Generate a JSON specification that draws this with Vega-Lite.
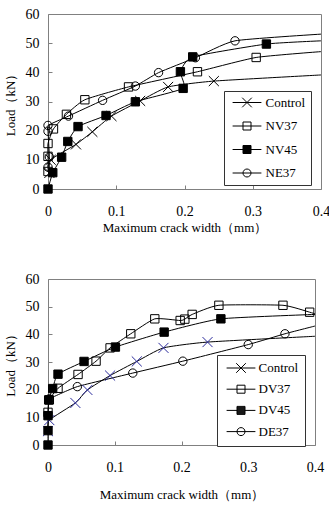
{
  "$schema": "https://vega.github.io/schema/vega-lite/v6.json",
  "padding": {"left": 3, "top": 6, "right": 0, "bottom": 0},
  "background": "white",
  "config": {
    "view": {"stroke": "#808080", "strokeWidth": 1},
    "axis": {
      "labelFont": "Times New Roman, Liberation Serif, serif", "labelFontSize": 14, "labelColor": "black",
      "titleFont": "Times New Roman, Liberation Serif, serif", "titleFontSize": 13, "titleFontWeight": "normal", "titleColor": "black",
      "grid": false, "domain": false, "tickColor": "#808080", "tickSize": -4, "labelFlush": false
    },
    "legend": {
      "labelFont": "Times New Roman, Liberation Serif, serif", "labelFontSize": 13, "labelColor": "black",
      "strokeColor": "#333333", "fillColor": "white",
      "symbolSize": 64, "symbolStrokeWidth": 1
    }
  },
  "datasets": {
    "top": [
      {"s": "Control", "i": 1, "x": 0.002, "y": 5.5, "m": 1},
      {"s": "Control", "i": 2, "x": 0.004, "y": 10, "m": 1},
      {"s": "Control", "i": 3, "x": 0.041, "y": 15.3, "m": 1},
      {"s": "Control", "i": 4, "x": 0.065, "y": 19.6, "m": 1},
      {"s": "Control", "i": 5, "x": 0.093, "y": 25, "m": 1},
      {"s": "Control", "i": 6, "x": 0.135, "y": 30.2, "m": 1},
      {"s": "Control", "i": 7, "x": 0.176, "y": 35, "m": 1},
      {"s": "Control", "i": 8, "x": 0.243, "y": 37, "m": 1},
      {"s": "Control", "i": 9, "x": 0.4, "y": 39.1, "m": 0},
      {"s": "NV37", "i": 1, "x": 0, "y": 6, "m": 1},
      {"s": "NV37", "i": 2, "x": 0, "y": 11.2, "m": 1},
      {"s": "NV37", "i": 3, "x": 0, "y": 15.6, "m": 1},
      {"s": "NV37", "i": 4, "x": 0.008, "y": 20.6, "m": 1},
      {"s": "NV37", "i": 5, "x": 0.027, "y": 25.6, "m": 1},
      {"s": "NV37", "i": 6, "x": 0.054, "y": 30.6, "m": 1},
      {"s": "NV37", "i": 7, "x": 0.118, "y": 35, "m": 1},
      {"s": "NV37", "i": 8, "x": 0.219, "y": 40.2, "m": 1},
      {"s": "NV37", "i": 9, "x": 0.305, "y": 45.1, "m": 1},
      {"s": "NV37", "i": 10, "x": 0.4, "y": 47.1, "m": 0},
      {"s": "NV45", "i": 1, "x": 0, "y": 0, "m": 1},
      {"s": "NV45", "i": 2, "x": 0.007, "y": 5.6, "m": 1},
      {"s": "NV45", "i": 3, "x": 0.02, "y": 10.9, "m": 1},
      {"s": "NV45", "i": 4, "x": 0.029, "y": 16.3, "m": 1},
      {"s": "NV45", "i": 5, "x": 0.044, "y": 21.4, "m": 1},
      {"s": "NV45", "i": 6, "x": 0.085, "y": 25.2, "m": 1},
      {"s": "NV45", "i": 7, "x": 0.128, "y": 29.9, "m": 1},
      {"s": "NV45", "i": 8, "x": 0.198, "y": 34.5, "m": 1},
      {"s": "NV45", "i": 9, "x": 0.194, "y": 40.2, "m": 1},
      {"s": "NV45", "i": 10, "x": 0.212, "y": 45.3, "m": 1},
      {"s": "NV45", "i": 11, "x": 0.32, "y": 49.7, "m": 1},
      {"s": "NV45", "i": 12, "x": 0.4, "y": 50.8, "m": 0},
      {"s": "NE37", "i": 1, "x": 0, "y": 7.5, "m": 1},
      {"s": "NE37", "i": 2, "x": 0.002, "y": 11, "m": 1},
      {"s": "NE37", "i": 3, "x": 0, "y": 19.8, "m": 1},
      {"s": "NE37", "i": 4, "x": 0, "y": 21.8, "m": 1},
      {"s": "NE37", "i": 5, "x": 0.03, "y": 25, "m": 1},
      {"s": "NE37", "i": 6, "x": 0.08, "y": 30.4, "m": 1},
      {"s": "NE37", "i": 7, "x": 0.128, "y": 35.3, "m": 1},
      {"s": "NE37", "i": 8, "x": 0.162, "y": 39.9, "m": 1},
      {"s": "NE37", "i": 9, "x": 0.216, "y": 45, "m": 1},
      {"s": "NE37", "i": 10, "x": 0.274, "y": 50.8, "m": 1},
      {"s": "NE37", "i": 11, "x": 0.4, "y": 53.1, "m": 0}
    ],
    "bottom": [
      {"s": "Control", "i": 1, "x": 0, "y": 5, "m": 1},
      {"s": "Control", "i": 2, "x": 0.002, "y": 9, "m": 1},
      {"s": "Control", "i": 3, "x": 0.041, "y": 15.2, "m": 1},
      {"s": "Control", "i": 4, "x": 0.059, "y": 19.9, "m": 1},
      {"s": "Control", "i": 5, "x": 0.093, "y": 25.1, "m": 1},
      {"s": "Control", "i": 6, "x": 0.133, "y": 30.2, "m": 1},
      {"s": "Control", "i": 7, "x": 0.173, "y": 35.1, "m": 1},
      {"s": "Control", "i": 8, "x": 0.239, "y": 37.2, "m": 1},
      {"s": "Control", "i": 9, "x": 0.4, "y": 39.3, "m": 0},
      {"s": "DV37", "i": 1, "x": 0, "y": 11.8, "m": 1},
      {"s": "DV37", "i": 2, "x": 0.002, "y": 16.3, "m": 1},
      {"s": "DV37", "i": 3, "x": 0.015, "y": 20.5, "m": 1},
      {"s": "DV37", "i": 4, "x": 0.045, "y": 25.5, "m": 1},
      {"s": "DV37", "i": 5, "x": 0.072, "y": 30.3, "m": 1},
      {"s": "DV37", "i": 6, "x": 0.093, "y": 35.1, "m": 1},
      {"s": "DV37", "i": 7, "x": 0.124, "y": 40.2, "m": 1},
      {"s": "DV37", "i": 8, "x": 0.16, "y": 45.6, "m": 1},
      {"s": "DV37", "i": 9, "x": 0.198, "y": 45, "m": 1},
      {"s": "DV37", "i": 10, "x": 0.205, "y": 45.5, "m": 1},
      {"s": "DV37", "i": 11, "x": 0.216, "y": 47.2, "m": 1},
      {"s": "DV37", "i": 12, "x": 0.256, "y": 50.5, "m": 1},
      {"s": "DV37", "i": 13, "x": 0.352, "y": 50.5, "m": 1},
      {"s": "DV37", "i": 14, "x": 0.392, "y": 48, "m": 1},
      {"s": "DV37", "i": 15, "x": 0.4, "y": 47.4, "m": 0},
      {"s": "DV45", "i": 1, "x": 0, "y": 0, "m": 1},
      {"s": "DV45", "i": 2, "x": 0, "y": 5.2, "m": 1},
      {"s": "DV45", "i": 3, "x": 0, "y": 10.6, "m": 1},
      {"s": "DV45", "i": 4, "x": 0.001, "y": 16.3, "m": 1},
      {"s": "DV45", "i": 5, "x": 0.007, "y": 20.4, "m": 1},
      {"s": "DV45", "i": 6, "x": 0.015, "y": 25.6, "m": 1},
      {"s": "DV45", "i": 7, "x": 0.054, "y": 30.2, "m": 1},
      {"s": "DV45", "i": 8, "x": 0.101, "y": 35.4, "m": 1},
      {"s": "DV45", "i": 9, "x": 0.174, "y": 40.8, "m": 1},
      {"s": "DV45", "i": 10, "x": 0.259, "y": 45.6, "m": 1},
      {"s": "DV45", "i": 11, "x": 0.4, "y": 47.2, "m": 0},
      {"s": "DE37", "i": 1, "x": 0.002, "y": 16.7, "m": 1},
      {"s": "DE37", "i": 2, "x": 0.044, "y": 21.1, "m": 1},
      {"s": "DE37", "i": 3, "x": 0.127, "y": 26, "m": 1},
      {"s": "DE37", "i": 4, "x": 0.202, "y": 30.3, "m": 1},
      {"s": "DE37", "i": 5, "x": 0.3, "y": 36.3, "m": 1},
      {"s": "DE37", "i": 6, "x": 0.355, "y": 40.2, "m": 1},
      {"s": "DE37", "i": 7, "x": 0.4, "y": 43, "m": 0}
    ]
  },
  "spacing": 36,
  "resolve": {"scale": {"shape": "independent", "fill": "independent", "stroke": "independent"}, "legend": {"shape": "independent", "fill": "independent", "stroke": "independent"}},
  "vconcat": [
    {
      "width": 273, "height": 175,
      "data": {"name": "top"},
      "encoding": {
        "x": {"field": "x", "type": "quantitative", "scale": {"domain": [0, 0.4], "nice": false, "zero": false},
          "axis": {"values": [0, 0.1, 0.2, 0.3, 0.4], "format": "~g", "labelPadding": 19, "titlePadding": 3, "title": "Maximum crack width（mm）"}},
        "y": {"field": "y", "type": "quantitative", "scale": {"domain": [0, 60], "nice": false},
          "axis": {"values": [0, 10, 20, 30, 40, 50, 60], "labelPadding": 13, "titlePadding": 8, "title": "Load（kN）"}}
      },
      "layer": [
        {
          "mark": {"type": "line", "interpolate": "cardinal", "tension": 0.5, "strokeWidth": 1},
          "encoding": {
            "order": {"field": "i", "type": "quantitative"},
            "detail": {"field": "s", "type": "nominal"},
            "stroke": {"field": "s", "type": "nominal", "scale": {"domain": ["Control", "NV37", "NV45", "NE37"], "range": ["black", "black", "black", "black"]}, "legend": null}
          }
        },
        {
          "transform": [{"filter": "datum.m == 1"}],
          "mark": {"type": "point", "strokeWidth": 1, "opacity": 1, "size": 70},
          "encoding": {
            "shape": {"field": "s", "type": "nominal", "scale": {"domain": ["Control", "NV37", "NV45", "NE37"], "range": ["M-1.2,-1.2L1.2,1.2M-1.2,1.2L1.2,-1.2", "square", "square", "circle"]}, "legend": null},
            "fill": {"field": "s", "type": "nominal", "scale": {"domain": ["Control", "NV37", "NV45", "NE37"], "range": ["transparent", "transparent", "black", "transparent"]}, "legend": null},
            "stroke": {"field": "s", "type": "nominal", "scale": {"domain": ["Control", "NV37", "NV45", "NE37"], "range": ["black", "black", "black", "black"]}, "legend": null}
          }
        },
        {
          "transform": [{"filter": "datum.m == 1"}],
          "mark": {"type": "point", "strokeWidth": 1, "opacity": 0, "size": 64, "color": "black"},
          "encoding": {
            "shape": {"field": "s", "type": "nominal", "scale": {"domain": ["Control", "NV37", "NV45", "NE37"], "range": ["M-3.6,0H3.6M-1.2,-1.2L1.2,1.2M-1.2,1.2L1.2,-1.2", "M-3.6,0H3.6M-1,-1H1V1H-1Z", "M-3.6,0H3.6M-1,-1H1V1H-1ZM-1,-0.75H1M-1,-0.5H1M-1,-0.25H1M-1,0.25H1M-1,0.5H1M-1,0.75H1", "M-3.6,0H3.6M1,0A1,1,0,1,1,-1,0A1,1,0,1,1,1,0Z"]},
              "legend": {"orient": "none", "legendX": 176, "legendY": 77, "title": null,
                "padding": 5, "rowPadding": 9.5, "symbolOffset": 11.5, "labelOffset": 12,
                "encode": {"symbols": {"fill": {"value": {"expr": "datum.value === 'NV45' ? 'black' : 'transparent'"}}, "stroke": {"value": "black"}, "opacity": {"value": 1}}}}}
          }
        }
      ],
      "resolve": {"scale": {"shape": "independent", "fill": "independent", "stroke": "independent"}}
    },
    {
      "width": 267, "height": 166,
      "data": {"name": "bottom"},
      "encoding": {
        "x": {"field": "x", "type": "quantitative", "scale": {"domain": [0, 0.4], "nice": false, "zero": false},
          "axis": {"values": [0, 0.1, 0.2, 0.3, 0.4], "format": "~g", "labelPadding": 19, "titlePadding": 14, "title": "Maximum crack width（mm）"}},
        "y": {"field": "y", "type": "quantitative", "scale": {"domain": [0, 60], "nice": false},
          "axis": {"values": [0, 10, 20, 30, 40, 50, 60], "labelPadding": 13, "titlePadding": 8, "title": "Load（kN）"}}
      },
      "layer": [
        {
          "mark": {"type": "line", "interpolate": "cardinal", "tension": 0.5, "strokeWidth": 1},
          "encoding": {
            "order": {"field": "i", "type": "quantitative"},
            "detail": {"field": "s", "type": "nominal"},
            "stroke": {"field": "s", "type": "nominal", "scale": {"domain": ["Control", "DV37", "DV45", "DE37"], "range": ["black", "black", "black", "black"]}, "legend": null}
          }
        },
        {
          "transform": [{"filter": "datum.m == 1"}],
          "mark": {"type": "point", "strokeWidth": 1, "opacity": 1, "size": 70},
          "encoding": {
            "shape": {"field": "s", "type": "nominal", "scale": {"domain": ["Control", "DV37", "DV45", "DE37"], "range": ["M-1.2,-1.2L1.2,1.2M-1.2,1.2L1.2,-1.2", "square", "square", "circle"]}, "legend": null},
            "fill": {"field": "s", "type": "nominal", "scale": {"domain": ["Control", "DV37", "DV45", "DE37"], "range": ["transparent", "transparent", "black", "transparent"]}, "legend": null},
            "stroke": {"field": "s", "type": "nominal", "scale": {"domain": ["Control", "DV37", "DV45", "DE37"], "range": ["#2a2a9c", "black", "black", "black"]}, "legend": null}
          }
        },
        {
          "transform": [{"filter": "datum.m == 1"}],
          "mark": {"type": "point", "strokeWidth": 1, "opacity": 0, "size": 64, "color": "black"},
          "encoding": {
            "shape": {"field": "s", "type": "nominal", "scale": {"domain": ["Control", "DV37", "DV45", "DE37"], "range": ["M-3.6,0H3.6M-1.2,-1.2L1.2,1.2M-1.2,1.2L1.2,-1.2", "M-3.6,0H3.6M-1,-1H1V1H-1Z", "M-3.6,0H3.6M-1,-1H1V1H-1ZM-1,-0.75H1M-1,-0.5H1M-1,-0.25H1M-1,0.25H1M-1,0.5H1M-1,0.75H1", "M-3.6,0H3.6M1,0A1,1,0,1,1,-1,0A1,1,0,1,1,1,0Z"]},
              "legend": {"orient": "none", "legendX": 169, "legendY": 76, "title": null,
                "padding": 6.5, "rowPadding": 7.2, "symbolOffset": 11, "labelOffset": 11,
                "encode": {"symbols": {"fill": {"value": {"expr": "datum.value === 'DV45' ? 'black' : 'transparent'"}}, "stroke": {"value": {"expr": "datum.value === 'Control' ? '#2a2a9c' : 'black'"}}, "opacity": {"value": 1}}}}}
          }
        }
      ],
      "resolve": {"scale": {"shape": "independent", "fill": "independent", "stroke": "independent"}}
    }
  ]
}
